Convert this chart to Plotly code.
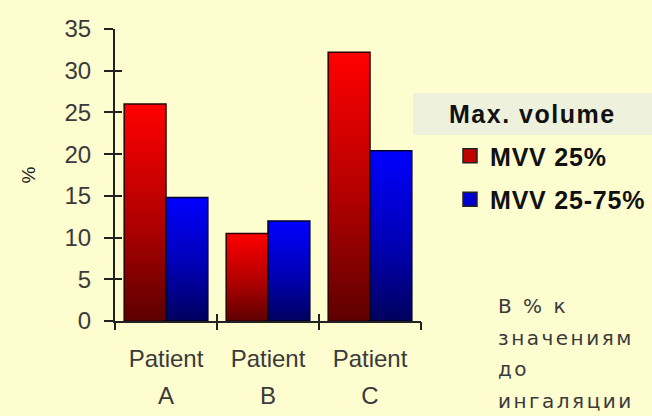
import plotly.graph_objects as go

# ---- data ----
patients = ["Patient", "Patient", "Patient"]
patient_ids = ["A", "B", "C"]
series_names = ["MVV 25%", "MVV 25-75%"]
mvv_25 = [26.0, 10.5, 32.2]
mvv_25_75 = [14.8, 12.0, 20.4]
y_ticks = [0, 5, 10, 15, 20, 25, 30, 35]
note_lines = ["В % к", "значениям", "до", "ингаляции"]

# ---- styling ----
W, H = 652, 416
L, R, T, B = 115, 231, 29, 95
BG = "#fdfdd0"
INK = "#222222"
TXT = "#3a3a3a"
FONT = "Liberation Sans, Arial, sans-serif"
scales = [
    [[0, "#5e0000"], [0.45, "#b00000"], [1, "#ff0000"]],
    [[0, "#00005e"], [0.45, "#0000b4"], [1, "#0000ff"]],
]
swatch = ["#c00000", "#0000d0"]
bar_w = 0.41


def px_x(p):
    return (p - L) / (W - L - R)


def px_y(p):
    return (H - B - p) / (H - T - B)


def spaced(text, gap):
    return f'<span style="letter-spacing:{gap}px">{text}</span>'


fig = go.Figure()

# bars drawn as filled outlines so each can carry a vertical gradient
for s, values in enumerate([mvv_25, mvv_25_75]):
    for i, v in enumerate(values):
        x0 = i - bar_w + s * bar_w
        x1 = x0 + bar_w
        fig.add_trace(go.Scatter(
            x=[x0, x0, x1, x1, x0], y=[0, v, v, 0, 0],
            mode="lines", fill="toself",
            fillgradient=dict(type="vertical", colorscale=scales[s], start=0, stop=v),
            line=dict(color="#2a0000" if s == 0 else "#00002a", width=1.5),
            name=series_names[s], showlegend=False,
            hoveron="fills", hoverinfo="name+text",
            text=f"{patients[i]} {patient_ids[i]}: {v}",
        ))

# legend entries
for s, name in enumerate(series_names):
    fig.add_trace(go.Scatter(
        x=[None], y=[None], mode="markers", name=spaced(name, 0.8), legendgroup=name,
        marker=dict(symbol="square", size=14, color=swatch[s],
                    line=dict(color=INK, width=1.5)),
    ))

cat_pos = list(range(len(patients)))
bounds = [i - 0.5 for i in range(len(patients) + 1)]
xr = [-0.5, len(patients) - 0.5]
yr = [0, 35]

fig.update_layout(
    width=W, height=H,
    margin=dict(l=L, r=R, t=T, b=B, pad=0, autoexpand=False),
    paper_bgcolor=BG, plot_bgcolor=BG,
    font=dict(family=FONT, color=TXT),
    xaxis=dict(range=xr, tickmode="array", tickvals=cat_pos, ticktext=patients,
               ticks="", showgrid=False, zeroline=False, showline=True,
               linecolor=INK, linewidth=2, tickfont=dict(size=24, color=TXT),
               ticklabelstandoff=15),
    xaxis2=dict(range=xr, overlaying="x", anchor="y", side="bottom",
                tickmode="array", tickvals=bounds, ticks="outside", ticklen=8,
                tickwidth=2, tickcolor=INK, showticklabels=False,
                showgrid=False, zeroline=False, showline=False),
    xaxis3=dict(range=xr, overlaying="x", anchor="y", side="bottom",
                tickmode="array", tickvals=bounds, ticks="inside", ticklen=7,
                tickwidth=2, tickcolor=INK, showticklabels=False,
                showgrid=False, zeroline=False, showline=False),
    xaxis4=dict(range=xr, overlaying="x", anchor="y", side="bottom",
                tickmode="array", tickvals=cat_pos, ticktext=patient_ids,
                ticks="", tickfont=dict(size=24, color=TXT),
                ticklabelstandoff=58,
                showgrid=False, zeroline=False, showline=False),
    yaxis=dict(range=yr, tickmode="array", tickvals=y_ticks, ticks="outside",
               ticklen=9, tickwidth=2, tickcolor=INK, showgrid=False,
               zeroline=False, showline=True, linecolor=INK, linewidth=2,
               tickfont=dict(size=24, color=TXT), ticklabelstandoff=8,
               title=dict(text="%", font=dict(size=19, color=INK), standoff=24)),
    yaxis2=dict(range=yr, overlaying="y", anchor="x", side="left",
                tickmode="array", tickvals=y_ticks, ticks="inside", ticklen=7,
                tickwidth=2, tickcolor=INK, showticklabels=False,
                showgrid=False, zeroline=False, showline=False),
    legend=dict(x=px_x(450), y=px_y(133), xanchor="left", yanchor="top",
                bgcolor="rgba(0,0,0,0)", traceorder="grouped",
                tracegroupgap=8,
                font=dict(size=25, color="#111111",
                          family="Liberation Sans, Arial, sans-serif", weight="bold")),
    shapes=[dict(type="rect", xref="paper", yref="paper",
                 x0=px_x(413), x1=px_x(652), y0=px_y(135), y1=px_y(93),
                 fillcolor="#eef1dc", line=dict(width=0), layer="below")],
    showlegend=True,
)

annotations = [dict(text=spaced("Max. volume", 1.5), xref="paper", yref="paper",
                    x=px_x(532), y=px_y(114), xanchor="center", yanchor="middle",
                    showarrow=False,
                    font=dict(size=25, color="#111111", weight="bold"))]
for k, line in enumerate(note_lines):
    annotations.append(dict(text=spaced(line, 2.5), xref="paper", yref="paper",
                            x=px_x(496), y=px_y(306 + k * 31.5),
                            xanchor="left", yanchor="middle", showarrow=False,
                            font=dict(size=20, color=TXT,
                                      family="DejaVu Sans, sans-serif")))
fig.update_layout(annotations=annotations)

# attach the helper axes to an empty trace so they are rendered
for xa in ["x2", "x3", "x4"]:
    fig.add_trace(go.Scatter(x=[None], y=[None], xaxis=xa, yaxis="y",
                             showlegend=False, hoverinfo="skip"))
fig.add_trace(go.Scatter(x=[None], y=[None], xaxis="x", yaxis="y2",
                         showlegend=False, hoverinfo="skip"))

fig.write_html("out.html")
